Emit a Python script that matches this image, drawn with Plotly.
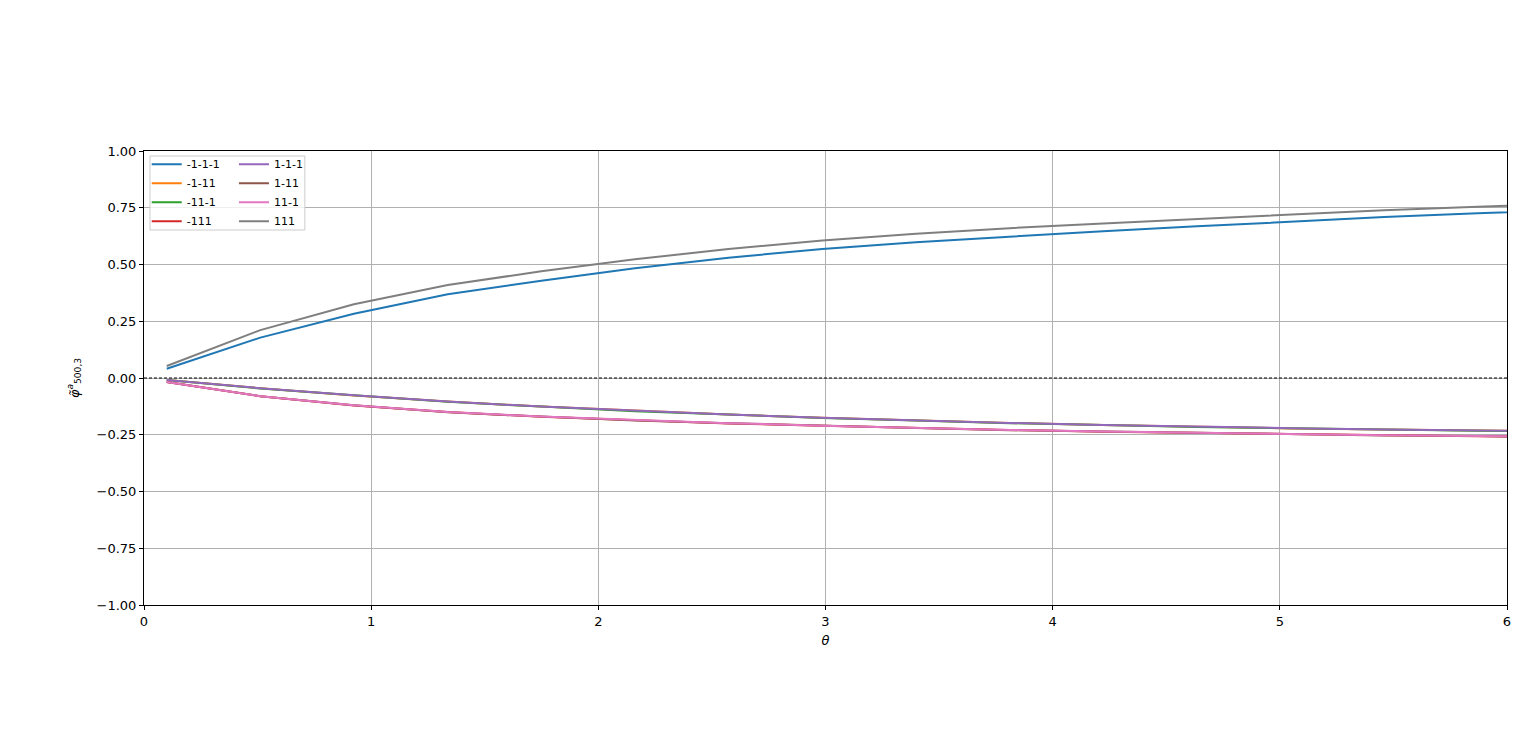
import plotly.graph_objects as go

# theta sample points (last point lies beyond the x-range and is clipped)
theta = [0.100, 0.512, 0.924, 1.337, 1.749, 2.161, 2.573, 2.986,
         3.398, 3.810, 4.222, 4.635, 5.047, 5.459, 5.871, 6.283]

s_m1m1m1 = [0.041, 0.178, 0.283, 0.369, 0.428, 0.483, 0.530, 0.568,
            0.598, 0.624, 0.647, 0.668, 0.690, 0.709, 0.726, 0.740]
s_m1m11 = [-0.009, -0.045, -0.077, -0.104, -0.126, -0.145, -0.161, -0.175,
           -0.187, -0.198, -0.207, -0.215, -0.222, -0.227, -0.232, -0.236]
s_m11m1 = [-0.009, -0.046, -0.076, -0.105, -0.126, -0.146, -0.161, -0.176,
           -0.187, -0.199, -0.207, -0.216, -0.221, -0.228, -0.232, -0.237]
s_m111 = [-0.018, -0.080, -0.121, -0.150, -0.171, -0.186, -0.200, -0.210,
          -0.221, -0.229, -0.237, -0.242, -0.249, -0.252, -0.257, -0.259]
s_1m1m1 = [-0.009, -0.045, -0.076, -0.104, -0.126, -0.145, -0.161, -0.175,
           -0.187, -0.198, -0.207, -0.215, -0.221, -0.227, -0.232, -0.236]
s_1m11 = [-0.018, -0.080, -0.120, -0.151, -0.170, -0.187, -0.199, -0.211,
          -0.220, -0.230, -0.236, -0.243, -0.248, -0.253, -0.256, -0.260]
s_11m1 = [-0.018, -0.080, -0.120, -0.150, -0.170, -0.186, -0.199, -0.210,
          -0.220, -0.229, -0.236, -0.242, -0.248, -0.252, -0.256, -0.259]
s_111 = [0.053, 0.211, 0.325, 0.410, 0.470, 0.523, 0.568, 0.606,
         0.635, 0.660, 0.681, 0.700, 0.722, 0.739, 0.754, 0.768]

series_names = ["-1-1-1", "-1-11", "-11-1", "-111", "1-1-1", "1-11", "11-1", "111"]
series_vals = [s_m1m1m1, s_m1m11, s_m11m1, s_m111, s_1m1m1, s_1m11, s_11m1, s_111]
colors = ["#1f77b4", "#ff7f0e", "#2ca02c", "#d62728",
          "#9467bd", "#8c564b", "#e377c2", "#7f7f7f"]

x_ticks = [0, 1, 2, 3, 4, 5, 6]
y_ticks = [-1.0, -0.75, -0.5, -0.25, 0.0, 0.25, 0.5, 0.75, 1.0]

fig = go.Figure()
for i, (name, vals, col) in enumerate(zip(series_names, series_vals, colors)):
    fig.add_trace(go.Scatter(
        x=theta, y=vals, mode="lines", name=name,
        line=dict(color=col, width=2),
        legend="legend" if i < 4 else "legend2",
    ))

fig.add_hline(y=0, line=dict(color="black", width=1, dash="3px,2px"))

# legend frame
fig.add_shape(type="rect", xref="paper", yref="paper",
              x0=0.0044, x1=0.118, y0=0.826, y1=0.989,
              line=dict(color="#cccccc", width=1), fillcolor="rgba(255,255,255,0.8)",
              layer="above")

font = dict(family="DejaVu Sans", size=13, color="black")
legfont = dict(family="DejaVu Sans", size=11, color="black")

fig.update_layout(
    width=1536, height=754,
    margin=dict(l=136, r=37, t=143, b=157),
    paper_bgcolor="white", plot_bgcolor="white",
    font=font,
    showlegend=True,
    legend=dict(x=0.002, y=1.003, xanchor="left", yanchor="top",
                bgcolor="rgba(0,0,0,0)", borderwidth=0, font=legfont,
                tracegroupgap=0, itemwidth=30),
    legend2=dict(x=0.066, y=1.003, xanchor="left", yanchor="top",
                 bgcolor="rgba(0,0,0,0)", borderwidth=0, font=legfont,
                 tracegroupgap=0, itemwidth=30),
    xaxis=dict(range=[0, 6], tickvals=x_ticks, ticktext=[str(t) for t in x_ticks],
               showgrid=True, gridcolor="#b0b0b0", gridwidth=1,
               showline=True, linecolor="black", linewidth=1, mirror=True,
               ticks="outside", ticklen=4, tickcolor="black", zeroline=False,
               title=dict(text="<i>θ</i>", font=font, standoff=8)),
    yaxis=dict(range=[-1, 1], tickvals=y_ticks, tickformat=".2f",
               showgrid=True, gridcolor="#b0b0b0", gridwidth=1,
               showline=True, linecolor="black", linewidth=1, mirror=True,
               ticks="outside", ticklen=4, tickcolor="black", zeroline=False,
               title=dict(text="<i>φ̃</i><sup><i>a</i></sup><sub>500,3</sub>", font=font, standoff=14)),
)

fig.write_html("out.html")
